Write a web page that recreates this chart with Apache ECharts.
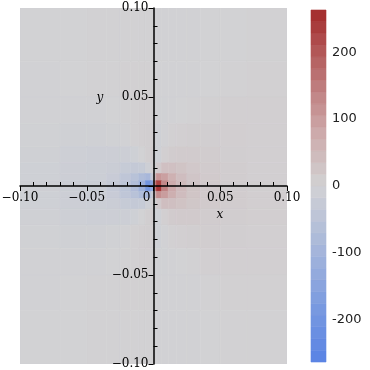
<!DOCTYPE html>
<html>
<head>
<meta charset="utf-8">
<script src="https://cdn.jsdelivr.net/npm/echarts@6/dist/echarts.min.js"></script>
<style>html,body{margin:0;padding:0;background:#fff}#c{width:370px;height:370px}</style>
</head>
<body>
<div id="c"></div>
<script>
// cell edges of the density grid (x left→right, y top→bottom)
const xEdges = [-0.1,-0.07,-0.05,-0.035,-0.025,-0.017,-0.011,-0.006,-0.002,0,0.002,0.006,0.011,0.017,0.025,0.035,0.05,0.07,0.1];
const yEdges = [0.1,0.07,0.05,0.035,0.022,0.013,0.007,0.003,0,-0.003,-0.007,-0.013,-0.022,-0.035,-0.05,-0.07,-0.1];
// values, rows top→bottom, columns left→right
const values = [
  [-1, 0, 1, 2, 2, 2, 2, 2, 1, -1, -2, -2, -2, -2, -2, -1, 0, 2],
  [-2, -1, 1, 2, 3, 3, 3, 3, 2, -1, -3, -3, -3, -3, -2, 0, 2, 3],
  [-3, -3, -2, 0, 2, 4, 5, 5, 3, -3, -5, -4, -3, -1, 2, 4, 5, 5],
  [-5, -7, -7, -5, -2, 3, 6, 8, 6, -8, -8, -3, 3, 6, 8, 8, 7, 5],
  [-7, -10, -12, -12, -12, -8, 0, 8, 10, -10, -8, 5, 12, 14, 14, 11, 8, 6],
  [-8, -12, -14, -18, -25, -30, -25, -10, 5, -5, 15, 35, 35, 28, 20, 14, 10, 6],
  [-8, -12, -15, -22, -40, -55, -75, -90, -30, 30, 110, 95, 65, 40, 25, 15, 10, 6],
  [-8, -12, -15, -25, -45, -70, -110, -200, -150, 120, 230, 130, 75, 45, 25, 15, 10, 6],
  [-8, -12, -15, -25, -45, -70, -110, -190, -140, 130, 250, 140, 78, 46, 26, 15, 10, 6],
  [-8, -12, -15, -22, -40, -55, -75, -85, -25, 35, 120, 100, 68, 42, 26, 16, 11, 7],
  [-8, -12, -14, -18, -25, -30, -25, -10, 5, -5, 18, 38, 37, 30, 22, 15, 11, 7],
  [-7, -10, -12, -12, -12, -8, 0, 8, 10, -10, -8, 5, 13, 15, 15, 12, 9, 7],
  [-5, -7, -7, -5, -2, 3, 6, 8, 6, -8, -8, -3, 3, 6, 8, 9, 8, 6],
  [-3, -3, -2, 0, 2, 4, 5, 5, 3, -3, -5, -4, -3, -1, 2, 5, 6, 6],
  [-2, -1, 1, 2, 3, 3, 3, 3, 2, -1, -3, -3, -3, -3, -2, 1, 3, 4],
  [-1, 0, 1, 2, 2, 2, 2, 2, 1, -1, -2, -2, -2, -2, -2, -1, 1, 2]
];
const cbMin = -263, cbMax = 263, cbBands = 30;
const cbLabels = [-200, -100, 0, 100, 200];
const colors = ['#5882E4','#7C9CDF','#A9B8DA','#D2D2D4','#CCA5A6','#B86A6B','#A32A2A'];

const cells = [];
for (let r = 0; r < values.length; r++) {
  for (let c = 0; c < values[r].length; c++) {
    cells.push([xEdges[c], xEdges[c+1], yEdges[r+1], yEdges[r], values[r][c]]);
  }
}
const bands = [];
const step = (cbMax - cbMin) / cbBands;
for (let i = 0; i < cbBands; i++) {
  const a = cbMin + i*step, b = a + step;
  bands.push([0, 1, a, b, (a+b)/2]);
}

function renderCell(params, api) {
  const p0 = api.coord([api.value(0), api.value(3)]);
  const p1 = api.coord([api.value(1), api.value(2)]);
  const col = api.visual('color');
  return {type:'rect', shape:{x:p0[0], y:p0[1], width:p1[0]-p0[0], height:p1[1]-p0[1]},
          style:{fill:col, stroke:col, lineWidth:0.6}};
}
const fmt = v => Math.abs(v) < 1e-9 ? '0' : (v < 0 ? '\u2212' : '') + Math.abs(v).toFixed(2);
const serif = 'DejaVu Serif';

// grid: plot spans x 20..287, y 8..364; the data origin sits at (153.5, 186)
const chart = echarts.init(document.getElementById('c'), null, {renderer:'canvas'});
chart.setOption({
  animation: false,
  backgroundColor: '#fff',
  grid: [
    {left:20, right:83, top:8, bottom:6, containLabel:false, outerBoundsMode:'none'},
    {left:311, width:15, top:10, height:352, containLabel:false, outerBoundsMode:'none'}
  ],
  xAxis: [
    {type:'value', gridIndex:0, min:-0.1, max:0.1, interval:0.05, z:10, position:'bottom', offset:-178,
     axisLine:{onZero:false, lineStyle:{color:'#000', width:1.5}},
     axisTick:{show:true, inside:false, length:5, lineStyle:{color:'#000'}},
     minorTick:{show:true, splitNumber:5, length:-4, lineStyle:{color:'#000'}},
     splitLine:{show:false}, minorSplitLine:{show:false},
     axisLabel:{margin:6, color:'#000', fontFamily:serif, fontSize:12,
       formatter: v => Math.abs(v) < 1e-9 ? '{z|0}' : fmt(v),
       rich:{z:{padding:[0,14,0,0], fontFamily:serif, fontSize:12, color:'#000'}}},
     name:'x', nameLocation:'middle', nameGap:21,
     nameTextStyle:{fontFamily:serif, fontStyle:'italic', fontSize:12, color:'#000', padding:[0,0,0,133]}
    },
    {type:'value', gridIndex:1, min:0, max:1, show:false}
  ],
  yAxis: [
    {type:'value', gridIndex:0, min:-0.1, max:0.1, interval:0.05, z:10, position:'left', offset:-133.5,
     axisLine:{onZero:false, lineStyle:{color:'#000', width:1.5}},
     axisTick:{show:true, inside:false, length:5, lineStyle:{color:'#000'}},
     minorTick:{show:true, splitNumber:5, length:-4, lineStyle:{color:'#000'}},
     splitLine:{show:false}, minorSplitLine:{show:false},
     axisLabel:{margin:5, color:'#000', fontFamily:serif, fontSize:12,
       formatter: v => Math.abs(v) < 1e-9 ? '' : fmt(v)},
     name:'y', nameLocation:'end', nameGap:-96,
     nameTextStyle:{fontFamily:serif, fontStyle:'italic', fontSize:12, color:'#000', padding:[0,107,0,0]}
    },
    {type:'value', gridIndex:1, min:cbMin, max:cbMax, position:'right',
     axisLine:{show:false}, axisTick:{show:false}, splitLine:{show:false},
     axisLabel:{customValues:cbLabels, margin:6, color:'#222', fontFamily:'DejaVu Sans', fontSize:13,
       formatter: v => String(v)}}
  ],
  visualMap: {type:'continuous', show:false, min:cbMin, max:cbMax, dimension:4, seriesIndex:[0,1],
    inRange:{color:colors}},
  series: [
    {type:'custom', xAxisIndex:0, yAxisIndex:0, z:1, renderItem:renderCell,
     encode:{x:[0,1], y:[2,3]}, data:cells, clip:true},
    {type:'custom', xAxisIndex:1, yAxisIndex:1, z:1, renderItem:renderCell,
     encode:{x:[0,1], y:[2,3]}, data:bands}
  ]
});
</script>
</body>
</html>
